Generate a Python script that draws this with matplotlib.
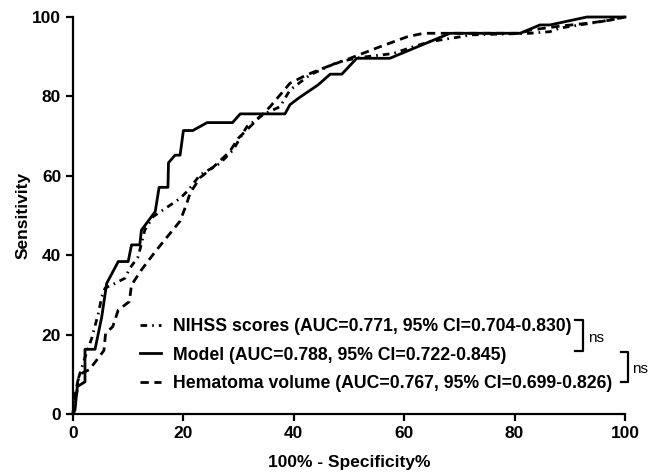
import matplotlib
matplotlib.use("Agg")
import matplotlib.pyplot as plt
from matplotlib.lines import Line2D

plt.rcParams['font.family'] = ['Liberation Sans', 'DejaVu Sans']

# ROC curves: 100% - specificity (x) vs sensitivity (y)
nihss_x = [0, 0.2, 0.7, 0.9, 2.2, 3.4, 4.6, 5.2, 5.8, 7.6, 9.4, 10.3, 11.8, 13.0, 14.5,
           17.6, 19.4, 20.9, 23.0, 26.6, 29.0, 31.5, 34.5, 37.5, 39.3, 42.9, 48.1, 52.0,
           58.0, 61.6, 64.7, 70.1, 72.0, 82.8, 86.4, 88.2, 91.8, 95.5, 100]
nihss_y = [0, 3.5, 5.3, 8.6, 14.4, 19.1, 25.4, 29.5, 31.7, 32.9, 34.2, 36.7, 39.6, 46.3, 49.7,
           52.6, 54.3, 56.4, 60.2, 63.1, 66.5, 72.4, 75.5, 77.4, 81.6, 85.4, 88.7, 89.8,
           90.8, 92.5, 93.8, 95.0, 95.5, 95.9, 96.3, 97.2, 98.0, 98.8, 100]

model_x = [0, 0.36, 0.78, 2.17, 2.17, 3.99, 5.2, 6.1, 8.2, 10.0, 10.6, 12.1, 12.4, 14.9,
           15.6, 17.2, 17.3, 18.5, 19.4, 20.0, 21.7, 24.3, 28.9, 30.3, 38.4, 39.3, 40.8,
           44.4, 46.6, 48.7, 51.4, 57.4, 68.3, 81.0, 84.6, 86.4, 93.1, 100]
model_y = [0, 1.0, 6.9, 8.1, 16.3, 16.3, 24.4, 32.9, 38.4, 38.4, 42.6, 42.6, 46.3, 51.0,
           57.1, 57.1, 63.3, 65.2, 65.2, 71.4, 71.4, 73.4, 73.4, 75.6, 75.6, 77.9, 79.5,
           82.9, 85.6, 85.6, 89.6, 89.6, 95.9, 95.9, 98.0, 98.0, 100, 100]

hema_x = [0, 0.4, 0.9, 1.5, 3.0, 4.3, 5.6, 5.9, 7.2, 8.2, 10.2, 10.6, 12.4, 14.9, 17.0,
          19.4, 20.6, 21.2, 23.0, 25.5, 28.4, 29.9, 32.1, 35.7, 39.3, 42.3, 45.3, 50.2,
          55.6, 60.5, 63.5, 81.0, 82.8, 88.2, 93.7, 97.3, 100]
hema_y = [0, 5.0, 8.5, 10.2, 11.2, 13.6, 16.0, 20.3, 22.0, 26.2, 28.3, 32.5, 36.3, 40.9, 44.5,
          48.6, 53.0, 55.6, 59.5, 62.3, 66.1, 69.4, 72.4, 77.4, 83.3, 85.4, 87.1, 89.6,
          92.5, 95.0, 95.9, 95.9, 96.7, 97.7, 98.5, 99.2, 100]

labels = ["NIHSS scores (AUC=0.771, 95% CI=0.704-0.830)",
          "Model (AUC=0.788, 95% CI=0.722-0.845)",
          "Hematoma volume (AUC=0.767, 95% CI=0.699-0.826)"]

W, H = 648, 472
fig = plt.figure(figsize=(W / 100, H / 100), dpi=100)
ax = fig.add_axes([73 / W, 1 - 414 / H, (625 - 73) / W, (414 - 17) / H])

lw = 2.0
ax.plot(nihss_x, nihss_y, color='black', lw=lw, dashes=(2.4, 1.8, 0.6, 1.8),
        label=labels[0], clip_on=False)
ax.plot(model_x, model_y, color='black', lw=lw, label=labels[1], clip_on=False)
ax.plot(hema_x, hema_y, color='black', lw=lw, dashes=(3.0, 2.0),
        label=labels[2], clip_on=False)

ax.set_xlim(0, 100)
ax.set_ylim(0, 100)
ax.set_xticks(range(0, 101, 20))
ax.set_yticks(range(0, 101, 20))
for s in ['top', 'right']:
    ax.spines[s].set_visible(False)
for s in ['left', 'bottom']:
    ax.spines[s].set_linewidth(1.6)
ax.tick_params(width=1.6, length=5, labelsize=12.5, direction='out')
for t in ax.get_xticklabels() + ax.get_yticklabels():
    t.set_fontweight('bold')

ax.set_xlabel("100% - Specificity%", fontsize=12.5, fontweight='bold', labelpad=10)
ax.set_ylabel("Sensitivity", fontsize=12.5, fontweight='bold', labelpad=1)

leg = ax.legend(loc='center left', bbox_to_anchor=(140 / W, 1 - 355 / H),
                bbox_transform=fig.transFigure, frameon=False, borderpad=0,
                borderaxespad=0, handlelength=1.2, handletextpad=0.65,
                labelspacing=0.64, prop={'size': 12.7, 'weight': 'bold'})


def fig_line(xs, ys):
    fig.add_artist(Line2D([x / W for x in xs], [1 - y / H for y in ys],
                          color='black', lw=1.6, transform=fig.transFigure))


# significance brackets
fig_line([575, 583, 583, 575], [320, 320, 351, 351])
fig.text(588 / W, 1 - 338 / H, "ns", fontsize=11, va='center', ha='left')
fig_line([621, 628, 628, 621], [352, 352, 382, 382])
fig.text(632 / W, 1 - 369 / H, "ns", fontsize=11, va='center', ha='left')

fig.savefig("out.png", dpi=100)
